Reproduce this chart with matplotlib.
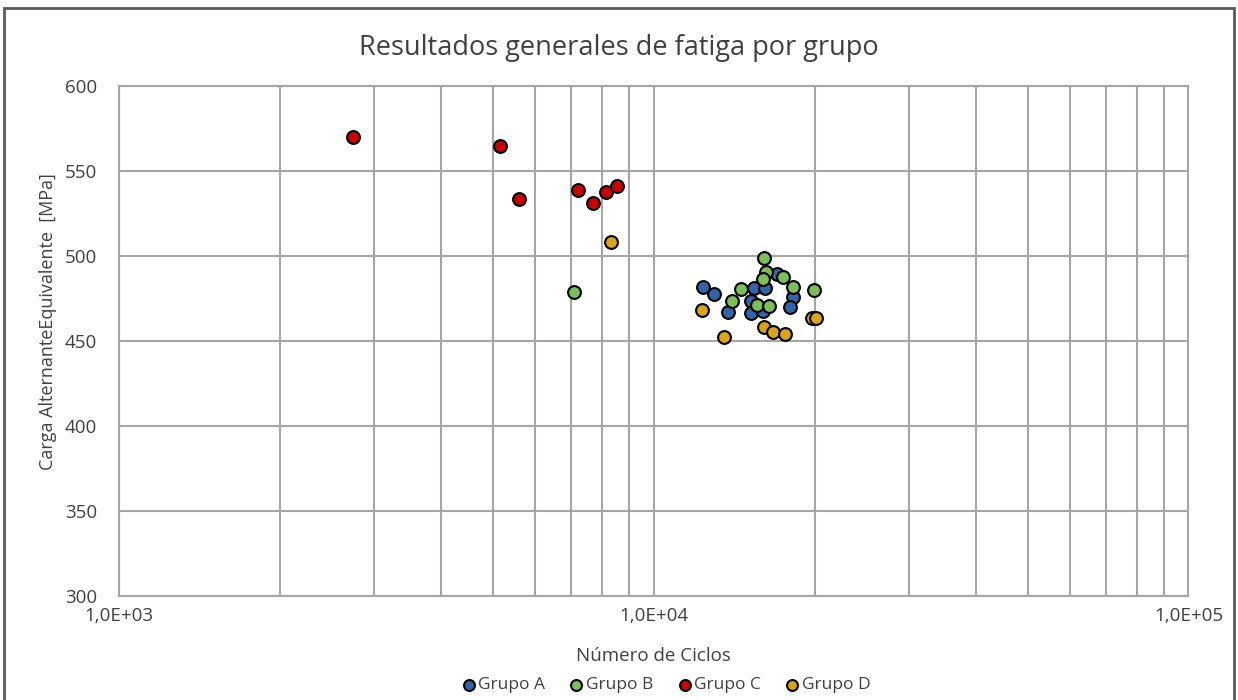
import matplotlib.pyplot as plt
from matplotlib.patches import Rectangle
from matplotlib.ticker import FixedLocator, LogLocator, NullFormatter

plt.rcParams['font.family'] = ['Open Sans', 'DejaVu Sans']

# datos: ciclos y carga [MPa] por grupo
ciclos_a = [12380, 12980, 13790, 15200, 15170, 15400, 16140, 15980, 17020, 18190, 17980]
carga_a = [481.6, 477.5, 466.9, 473.4, 466.1, 481.2, 481.2, 467.6, 489.0, 475.9, 469.6]

ciclos_b = [7100, 16080, 16240, 16000, 17420, 14560, 13990, 15570, 16440, 18170, 19960]
carga_b = [478.8, 498.8, 490.2, 486.3, 487.5, 480.2, 473.4, 471.0, 470.6, 481.4, 479.8]

ciclos_c = [2734, 5156, 5603, 7225, 7706, 8138, 8545]
carga_c = [569.8, 564.7, 533.2, 538.8, 531.2, 537.6, 540.8]

ciclos_d = [8317, 12320, 13530, 16080, 16690, 17620, 19740, 20120]
carga_d = [507.9, 467.9, 452.4, 458.2, 455.1, 453.8, 463.4, 463.4]

grupos = ['Grupo A', 'Grupo B', 'Grupo C', 'Grupo D']
colores = ['#3464A8', '#7CBF5A', '#C80000', '#D9A41C']
series = [(ciclos_a, carga_a), (ciclos_b, carga_b), (ciclos_c, carga_c), (ciclos_d, carga_d)]

texto = '#404040'
rejilla = '#A6A6A6'

fig = plt.figure(figsize=(12.38, 7), dpi=100)
ax = fig.add_axes([0.0963, 0.149, 0.8637, 0.7286])

# marco exterior del grafico
fig.patches.append(Rectangle((0.003, -0.01), 0.994, 0.999, transform=fig.transFigure,
                             fill=False, edgecolor='#595959', linewidth=2))

for (x, y), nombre, c in zip(series, grupos, colores):
    ax.scatter(x, y, s=85, color=c, edgecolor='black', linewidth=1.5, label=nombre, zorder=3)

ax.set_xscale('log')
ax.set_xlim(1e3, 1e5)
ax.set_ylim(300, 600)
ax.set_yticks(range(300, 601, 50))
ax.xaxis.set_major_locator(FixedLocator([1e3, 1e4, 1e5]))
ax.xaxis.set_minor_locator(LogLocator(base=10, subs=range(2, 10)))
ax.xaxis.set_minor_formatter(NullFormatter())
ax.set_xticklabels(['1,0E+03', '1,0E+04', '1,0E+05'])

ax.grid(True, which='both', axis='x', color=rejilla, linewidth=1.5)
ax.grid(True, which='major', axis='y', color=rejilla, linewidth=1.5)
for s in ax.spines.values():
    s.set_color(rejilla)
    s.set_linewidth(1.5)
ax.tick_params(which='both', length=0, colors=texto, labelsize=13.5)
ax.tick_params(axis='y', pad=16)
ax.tick_params(axis='x', pad=8)

fig.text(0.5, 1 - 48 / 700, 'Resultados generales de fatiga por grupo', ha='center', va='center',
         fontsize=19.5, color=texto)
fig.text(653 / 1238, 1 - 656 / 700, 'Número de Ciclos', ha='center', va='center', fontsize=13.5,
         color=texto)
fig.text(48 / 1238, 1 - 322 / 700, 'Carga AlternanteEquivalente  [MPa]', ha='center', va='center',
         rotation=90, fontsize=13, color=texto)

fig.legend(loc='center', bbox_to_anchor=(666 / 1238, 1 - 685 / 700), ncol=4, frameon=False,
           fontsize=12.5, labelcolor=texto, handlelength=0.8, handletextpad=0.15,
           columnspacing=1.4, markerscale=0.85)

fig.savefig('out.png', dpi=100)
